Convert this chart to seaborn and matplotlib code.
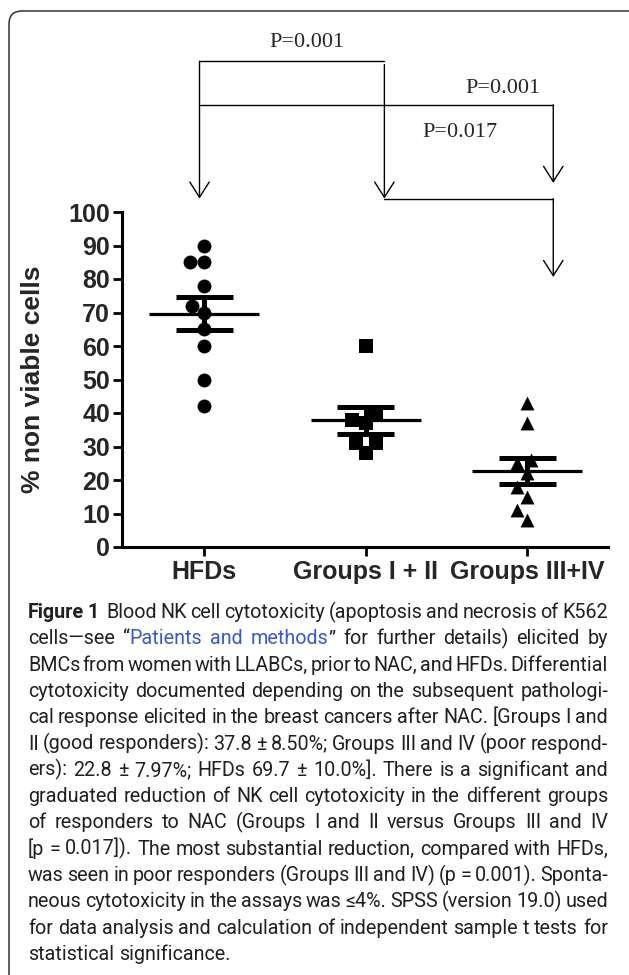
import matplotlib
matplotlib.use("Agg")
import matplotlib.pyplot as plt
from matplotlib.patches import FancyBboxPatch
from matplotlib.transforms import IdentityTransform
import seaborn as sns
import pandas as pd
import numpy as np

# data
groups = ["HFDs", "Groups I + II", "Groups III+IV"]
hfd_values = [90, 85, 85, 78, 72, 70, 65, 60, 50, 42]
good_values = [60, 40, 38, 37, 31, 31, 28]
poor_values = [43, 37, 26, 25, 22, 18, 15, 11, 8]
group_markers = ["o", "s", "^"]
y_ticks = [0, 10, 20, 30, 40, 50, 60, 70, 80, 90, 100]
y_label = "% non viable cells"
p_labels = ["P=0.001", "P=0.001", "P=0.017"]

caption_lines = [
    "*Figure 1*  Blood NK cell cytotoxicity (apoptosis and necrosis of K562",
    "cells\u2014see \u201c{Patients and methods}\u201d for further details) elicited by",
    "BMCs from women with LLABCs, prior to NAC, and HFDs. Differential",
    "cytotoxicity documented depending on the subsequent pathologi-",
    "cal response elicited in the breast cancers after NAC. [Groups I and",
    "II (good responders): 37.8 \u00b1 8.50%; Groups III and IV (poor respond-",
    "ers): 22.8 \u00b1 7.97%; HFDs 69.7 \u00b1 10.0%]. There is a significant and",
    "graduated reduction of NK cell cytotoxicity in the different groups",
    "of responders to NAC (Groups I and II versus Groups III and IV",
    "[p = 0.017]). The most substantial reduction, compared with HFDs,",
    "was seen in poor responders (Groups III and IV) (p = 0.001). Sponta-",
    "neous cytotoxicity in the assays was \u22644%. SPSS (version 19.0) used",
    "for data analysis and calculation of independent sample t tests for",
    "statistical significance.",
]

df = pd.concat([
    pd.DataFrame({"group": groups[0], "value": hfd_values}),
    pd.DataFrame({"group": groups[1], "value": good_values}),
    pd.DataFrame({"group": groups[2], "value": poor_values}),
], ignore_index=True)

sns.set_style("ticks")
plt.rcParams["font.family"] = ["Liberation Sans", "DejaVu Sans"]

W, H = 629, 975
fig = plt.figure(figsize=(W / 100, H / 100), dpi=100)
ax = fig.add_axes([122 / W, 1 - 547 / H, 486 / W, 335 / H])

for g, m in zip(groups, group_markers):
    sns.swarmplot(data=df[df["group"] == g], x="group", y="value", order=groups,
                  marker=m, size=10, color="black", linewidth=0, ax=ax, zorder=3)

# mean +/- SEM
stats = df.groupby("group")["value"].agg(["mean", "sem"]).reindex(groups)
for i, (mu, se) in enumerate(zip(stats["mean"], stats["sem"])):
    ax.hlines(mu, i - 0.34, i + 0.34, color="black", lw=2.3, zorder=4)
    ax.hlines([mu - se, mu + se], i - 0.176, i + 0.176, color="black", lw=3.6, zorder=4)
    ax.vlines(i, mu - se, mu + se, color="black", lw=3.6, zorder=4)

ax.set_xlim(-0.51, 2.5)
ax.set_ylim(0, 100)
ax.set_yticks(y_ticks)
ax.set_xlabel("")
ax.set_ylabel(y_label, fontsize=19, fontweight="bold")
ax.yaxis.set_label_coords(-0.158, 0.5)
ax.tick_params(axis="both", length=6.5, width=2, color="black", labelsize=18)
ax.tick_params(axis="y", pad=2)
ax.tick_params(axis="x", pad=3)
for lab in ax.get_xticklabels() + ax.get_yticklabels():
    lab.set_fontweight("bold")
sns.despine(ax=ax)
for s in ["left", "bottom"]:
    ax.spines[s].set_linewidth(2.2)
    ax.spines[s].set_color("black")

# significance brackets
x_a, x_b, x_c = -0.03, 1.115, 2.161
y_top, y_mid, y_low = 145, 132, 104
arrow = dict(arrowstyle="->,head_length=1.1,head_width=0.7", lw=1, color="black",
             shrinkA=0, shrinkB=0)
ax.plot([x_a, x_b], [y_top, y_top], color="black", lw=1, clip_on=False)
ax.plot([x_a, x_c], [y_mid, y_mid], color="black", lw=1, clip_on=False)
ax.plot([x_b, x_c], [y_low, y_low], color="black", lw=1, clip_on=False)
for x0, y0, y1 in [(x_a, y_top, y_low), (x_b, y_top - 1, y_low), (x_c, y_mid, 108.7), (x_c, y_low, 80.6)]:
    ax.annotate("", xy=(x0, y1), xytext=(x0, y0), arrowprops=arrow, annotation_clip=False)
serif = ["Liberation Serif", "DejaVu Serif"]
for (tx, ty), lab in zip([(0.637, 150.7), (1.85, 137.0), (1.585, 123.6)], p_labels):
    ax.text(tx, ty, lab, ha="center", va="center", family=serif, fontsize=16, clip_on=False)

# frame
fig.add_artist(FancyBboxPatch((9, -40), 660, H - 11 + 40, boxstyle="round,pad=0,rounding_size=13",
                              transform=IdentityTransform(), fill=False, lw=1.1, ec="#333333"))

# caption, justified line by line
cap_font = ["Roboto", "DejaVu Sans"]
colors = {"n": "#231f20", "b": "#231f20", "link": "#3756e0"}
r = fig.canvas.get_renderer()


def parse(line):
    words, state = [], "n"
    for raw in line.split(" "):
        pieces, buf = [], ""
        for ch in raw:
            if ch in "{}*":
                if buf:
                    pieces.append((buf, state))
                    buf = ""
                if ch == "{":
                    state = "link"
                elif ch == "}":
                    state = "n"
                else:
                    state = "n" if state == "b" else "b"
            else:
                buf += ch
        if buf:
            pieces.append((buf, state))
        # an empty word (double space) keeps a slot so the gap doubles
        words.append(pieces)
    return words


def make_words(words, size):
    out = []
    for pieces in words:
        ts = []
        for txt, st in pieces:
            t = fig.text(0, 0, txt, transform=IdentityTransform(), family=cap_font, fontsize=size,
                         fontweight="bold" if st == "b" else "normal", color=colors[st], va="baseline")
            ts.append((t, t.get_window_extent(r).width))
        out.append(ts)
    return out


def space_width(size):
    a = fig.text(0, 0, "a a", family=cap_font, fontsize=size)
    b = fig.text(0, 0, "aa", family=cap_font, fontsize=size)
    w = a.get_window_extent(r).width - b.get_window_extent(r).width
    a.remove()
    b.remove()
    return w


left, right = 28, 608
parsed = [parse(l) for l in caption_lines]

# fit the font size so the natural line length matches the column
base = 13.0
sw = space_width(base)
ratios = []
for words in parsed[:-1]:
    ws = make_words(words, base)
    natural = sum(w for ts in ws for _, w in ts) + sw * (len(ws) - 1)
    ratios.append((right - left) / natural)
    for ts in ws:
        for t, _ in ts:
            t.remove()
size = base * float(np.median(ratios))
sw = space_width(size)

for k, words in enumerate(parsed):
    ws = make_words(words, size)
    widths = [sum(w for _, w in ts) for ts in ws]
    if k < len(parsed) - 1:
        gap = (right - left - sum(widths)) / (len(ws) - 1)
    else:
        gap = sw
    y = H - (618 + 26.3 * k)
    x = left
    for ts, wsum in zip(ws, widths):
        xx = x
        for t, w in ts:
            t.set_position((xx, y))
            xx += w
        x += wsum + gap

fig.savefig("out.png", dpi=100, facecolor="white")
